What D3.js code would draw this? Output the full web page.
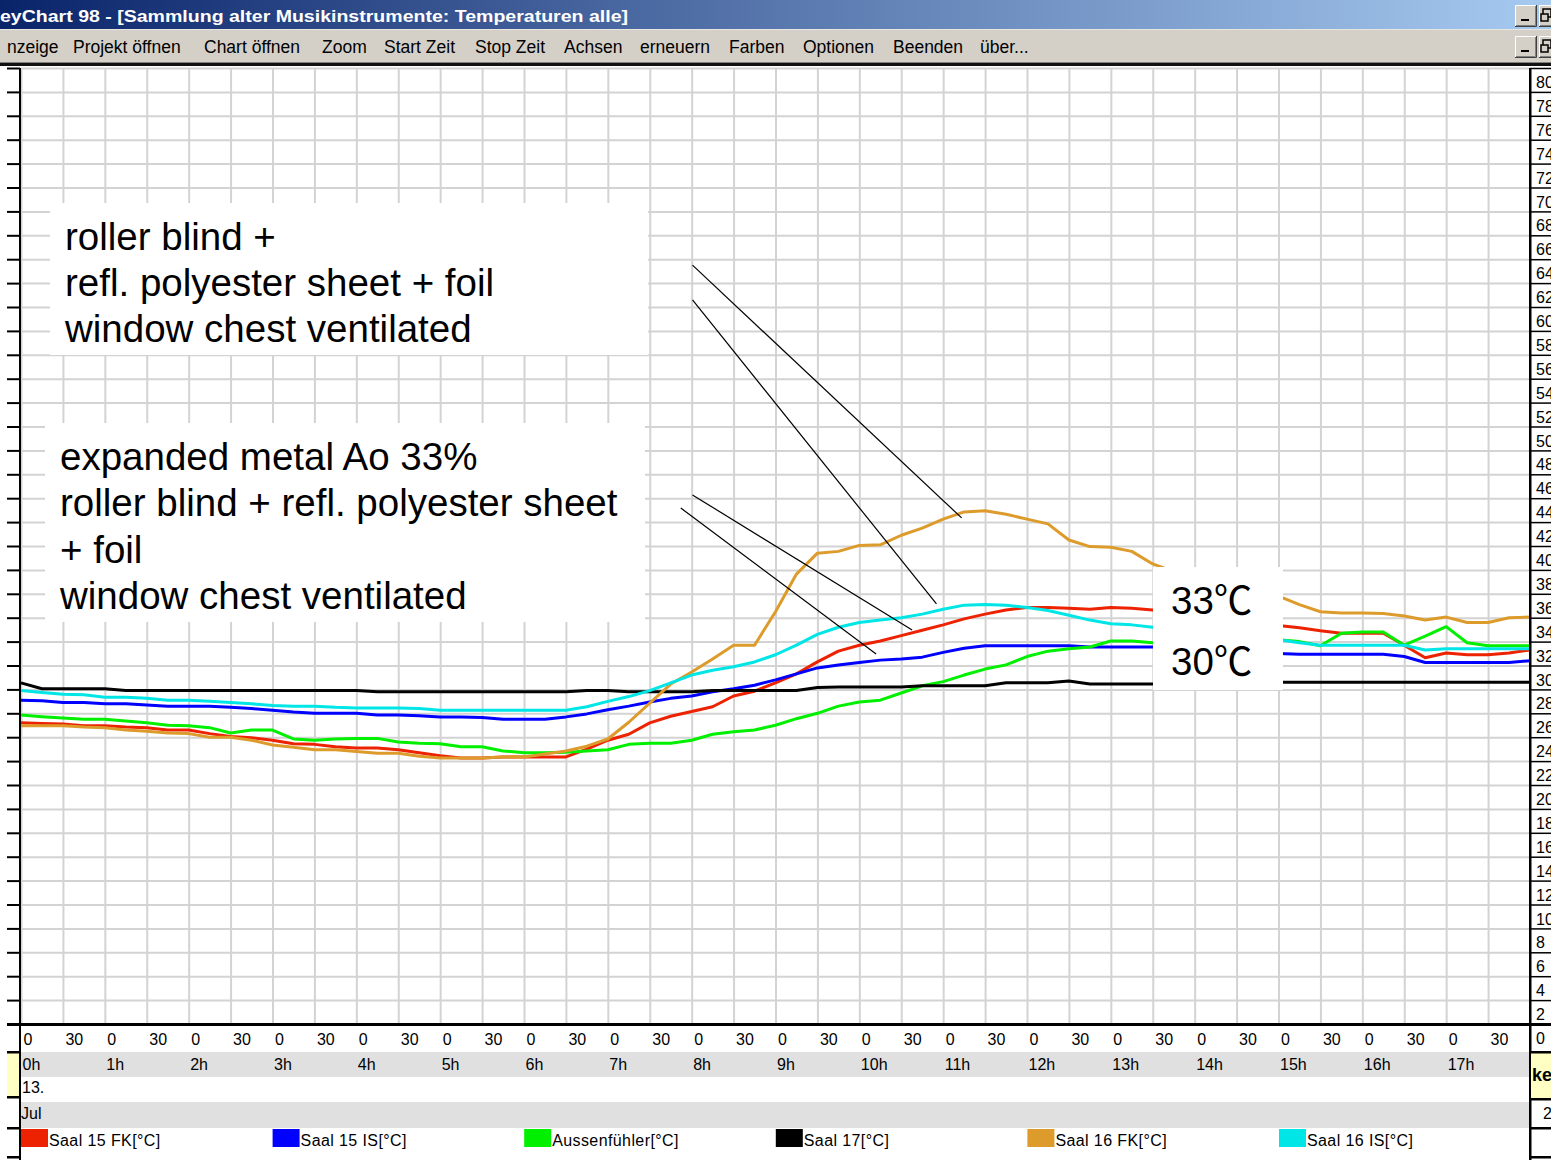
<!DOCTYPE html>
<html>
<head>
<meta charset="utf-8">
<script src="https://cdn.jsdelivr.net/npm/d3@7"></script>
<style>
  html, body { margin: 0; padding: 0; background: #fff; overflow: hidden; }
  svg { display: block; }
  text { font-family: "Liberation Sans", Arial, sans-serif; }
</style>
</head>
<body>
<svg id="chart" width="1551" height="1160"></svg>
<script>
// ---- data -------------------------------------------------------------
// Readings every 15 minutes from 0h to 18h (73 samples per sensor), in °C
const sampleHours = d3.range(0, 73).map(i => i / 4);

const saal15FK = [
  25.2, 25.15, 25.1, 24.95, 24.95, 24.85, 24.8, 24.6, 24.6, 24.3,
  24.05, 23.95, 23.75, 23.45, 23.4, 23.2, 23.1, 23.1, 22.95, 22.7,
  22.45, 22.25, 22.25, 22.35, 22.35, 22.35, 22.35, 23.0, 23.75, 24.25,
  25.2, 25.75, 26.15, 26.55, 27.45, 27.85, 28.55, 29.3, 30.3, 31.2,
  31.7, 32.05, 32.5, 32.95, 33.4, 33.9, 34.3, 34.65, 34.85, 34.85,
  34.8, 34.7, 34.85, 34.8, 34.65, 34.5, 34.3, 34.05, 33.8, 33.55,
  33.35, 33.15, 32.9, 32.7, 32.7, 32.7, 31.7, 30.65, 31.05, 30.9,
  30.9, 31.05, 31.3
];
const saal15IS = [
  27.1, 27.05, 26.9, 26.9, 26.8, 26.8, 26.7, 26.6, 26.6, 26.6,
  26.5, 26.4, 26.25, 26.1, 26.0, 26.0, 26.0, 25.85, 25.85, 25.8,
  25.7, 25.7, 25.65, 25.5, 25.5, 25.5, 25.7, 25.95, 26.3, 26.6,
  26.95, 27.25, 27.45, 27.8, 28.05, 28.35, 28.8, 29.3, 29.8, 30.05,
  30.25, 30.45, 30.55, 30.7, 31.1, 31.45, 31.65, 31.65, 31.65, 31.65,
  31.65, 31.55, 31.55, 31.55, 31.55, 31.45, 31.3, 31.2, 31.15, 31.05,
  31.0, 30.95, 30.95, 30.95, 30.95, 30.95, 30.75, 30.25, 30.25, 30.25,
  30.25, 30.25, 30.4
];
const aussenfuehler = [
  25.85, 25.72, 25.6, 25.5, 25.5, 25.35, 25.2, 25.0, 24.95, 24.8,
  24.35, 24.6, 24.6, 23.85, 23.75, 23.85, 23.9, 23.9, 23.6, 23.5,
  23.45, 23.2, 23.2, 22.85, 22.7, 22.7, 22.75, 22.85, 22.95, 23.4,
  23.5, 23.5, 23.75, 24.25, 24.45, 24.6, 25.0, 25.55, 26.0, 26.6,
  26.95, 27.1, 27.7, 28.3, 28.65, 29.2, 29.7, 30.05, 30.75, 31.2,
  31.4, 31.55, 32.05, 32.05, 31.9, 31.9, 31.95, 32.05, 32.15, 32.15,
  32.15, 32.0, 31.65, 32.7, 32.8, 32.8, 31.7, 32.45, 33.25, 31.9,
  31.65, 31.65, 31.65
];
const saal17 = [
  28.55, 28.05, 28.05, 28.05, 28.05, 27.9, 27.9, 27.9, 27.9, 27.9,
  27.9, 27.9, 27.9, 27.9, 27.9, 27.9, 27.9, 27.8, 27.8, 27.8,
  27.8, 27.8, 27.8, 27.8, 27.8, 27.8, 27.8, 27.9, 27.9, 27.8,
  27.8, 27.8, 27.8, 27.9, 27.9, 27.9, 27.9, 27.9, 28.15, 28.2,
  28.2, 28.2, 28.2, 28.3, 28.3, 28.3, 28.3, 28.55, 28.55, 28.55,
  28.7, 28.45, 28.45, 28.45, 28.45, 28.5, 28.5, 28.5, 28.5, 28.5,
  28.6, 28.6, 28.6, 28.6, 28.6, 28.6, 28.6, 28.6, 28.6, 28.6,
  28.6, 28.6, 28.6
];
const saal16FK = [
  24.95, 24.95, 24.95, 24.85, 24.8, 24.6, 24.5, 24.35, 24.3, 24.0,
  24.0, 23.75, 23.35, 23.15, 22.95, 22.95, 22.8, 22.65, 22.65, 22.4,
  22.25, 22.25, 22.25, 22.35, 22.35, 22.6, 22.85, 23.25, 23.85, 25.25,
  26.85, 28.45, 29.45, 30.55, 31.7, 31.7, 34.5, 37.65, 39.4, 39.55,
  40.05, 40.1, 40.9, 41.5, 42.25, 42.85, 42.95, 42.65, 42.25, 41.85,
  40.5, 39.95, 39.9, 39.55, 38.5, 37.85, 37.35, 36.9, 36.6, 36.25,
  35.8, 35.1, 34.5, 34.4, 34.4, 34.35, 34.15, 33.8, 34.05, 33.6,
  33.6, 34.0, 34.05
];
const saal16IS = [
  27.9, 27.74, 27.6, 27.55, 27.35, 27.35, 27.25, 27.1, 27.1, 27.0,
  26.9, 26.8, 26.65, 26.6, 26.6, 26.5, 26.45, 26.45, 26.45, 26.4,
  26.25, 26.25, 26.25, 26.25, 26.25, 26.25, 26.25, 26.55, 27.0, 27.4,
  27.9, 28.55, 29.2, 29.6, 29.9, 30.3, 30.9, 31.7, 32.6, 33.2,
  33.6, 33.8, 34.0, 34.3, 34.7, 35.05, 35.1, 35.05, 34.85, 34.6,
  34.2, 33.8, 33.5, 33.4, 33.2, 33.05, 32.85, 32.6, 32.4, 32.25,
  32.15, 31.9, 31.7, 31.7, 31.7, 31.7, 31.7, 31.3, 31.4, 31.4,
  31.4, 31.4, 31.4
];

const seriesNames  = ["Saal 15 FK[°C]", "Saal 15 IS[°C]", "Aussenfühler[°C]", "Saal 17[°C]", "Saal 16 FK[°C]", "Saal 16 IS[°C]"];
const seriesValues = [saal15FK, saal15IS, aussenfuehler, saal17, saal16FK, saal16IS];
const seriesColors = ["#ec2200", "#0000ff", "#00f000", "#000000", "#dd9b2b", "#00e6e6"];

const tempTicks = d3.range(0, 82, 2);                 // 0 … 80 °C
const halfHourTicks = d3.range(0, 36).map(i => i / 2); // 0h … 17h30
const hourTicks = d3.range(0, 18);
const dayLabel = "13.";
const monthLabel = "Jul";

const titleText = "eyChart 98 - [Sammlung alter Musikinstrumente: Temperaturen alle]";
const menuItems = ["nzeige", "Projekt öffnen", "Chart öffnen", "Zoom", "Start Zeit", "Stop Zeit",
                   "Achsen", "erneuern", "Farben", "Optionen", "Beenden", "über..."];

const noteUpper = ["roller blind +", "refl. polyester sheet + foil", "window chest ventilated"];
const noteLower = ["expanded metal Ao 33%", "roller blind + refl. polyester sheet", "+ foil", "window chest ventilated"];
const noteTemps = ["33", "30"];
// leader lines, [hour, °C] from the note to the curve
const leaders = [
  [[8.01, 63.5], [11.22, 42.35]],
  [[8.01, 60.6], [10.92, 35.15]],
  [[8.01, 44.27], [10.63, 32.97]],
  [[7.87, 43.18], [10.2, 30.96]]
];

// ---- layout -----------------------------------------------------------
const W = 1551, H = 1160;
const plot = { left: 21, right: 1530, top: 68, bottom: 1024 };
const menuX = [7, 73, 204, 322, 384, 475, 564, 640, 729, 803, 893, 980];
const svg = d3.select("#chart");

const x = d3.scaleLinear().domain([0, 18]).range([plot.left, plot.right]);
const y = d3.scaleLinear().domain([0, 80]).range([plot.bottom, plot.top]);

// ---- window frame: title bar and menu ----------------------------------
const defs = svg.append("defs");
const grad = defs.append("linearGradient").attr("id", "titleGrad")
  .attr("x1", 0).attr("x2", 1).attr("y1", 0).attr("y2", 0);
grad.append("stop").attr("offset", 0).attr("stop-color", "#0a246a");
grad.append("stop").attr("offset", 1).attr("stop-color", "#a6caf0");

svg.append("rect").attr("x", 0).attr("y", 0).attr("width", W).attr("height", 29).attr("fill", "url(#titleGrad)");
svg.append("text").attr("x", 0).attr("y", 22)
  .attr("fill", "#fff").attr("font-weight", "bold").attr("font-size", 17)
  .attr("font-family", "'DejaVu Sans', sans-serif")
  .attr("textLength", 628).attr("lengthAdjust", "spacingAndGlyphs")
  .text(titleText);

svg.append("rect").attr("x", 0).attr("y", 29).attr("width", W).attr("height", 34).attr("fill", "#d4d0c8");
svg.append("rect").attr("x", 0).attr("y", 29).attr("width", W).attr("height", 1).attr("fill", "#e8e6e0");

svg.append("g").selectAll("text").data(menuItems).join("text")
  .attr("x", (d, i) => menuX[i]).attr("y", 53)
  .attr("font-size", 17.5).attr("fill", "#000").text(d => d);

// small window buttons at the right edge
function winButton(bx, by, w, h, glyph) {
  const g = svg.append("g");
  g.append("rect").attr("x", bx).attr("y", by).attr("width", w).attr("height", h).attr("fill", "#d4d0c8");
  g.append("path").attr("d", `M${bx + 0.5},${by + h}V${by + 0.5}H${bx + w}`).attr("stroke", "#fff").attr("fill", "none");
  g.append("path").attr("d", `M${bx},${by + h - 0.5}H${bx + w - 0.5}V${by}`).attr("stroke", "#404040").attr("fill", "none");
  g.append("path").attr("d", `M${bx + 1},${by + h - 1.5}H${bx + w - 1.5}V${by + 1}`).attr("stroke", "#808080").attr("fill", "none");
  if (glyph === "min") {
    g.append("rect").attr("x", bx + 6).attr("y", by + h - 8).attr("width", 8).attr("height", 2).attr("fill", "#000");
  } else {
    g.append("rect").attr("x", bx + 4).attr("y", by + 4).attr("width", 8).attr("height", 8)
      .attr("fill", "none").attr("stroke", "#000").attr("stroke-width", 1.5);
    g.append("rect").attr("x", bx + 2).attr("y", by + 9).attr("width", 7).attr("height", 7)
      .attr("fill", "#d4d0c8").attr("stroke", "#000").attr("stroke-width", 1.5);
  }
}
winButton(1515, 5, 22, 22, "min");
winButton(1539, 5, 22, 22, "restore");
winButton(1515, 36, 22, 22, "min");
winButton(1539, 36, 22, 22, "restore");

svg.append("rect").attr("x", 0).attr("y", 62).attr("width", W).attr("height", 1).attr("fill", "#808080");
svg.append("rect").attr("x", 0).attr("y", 63).attr("width", W).attr("height", 3).attr("fill", "#111");

// ---- grid --------------------------------------------------------------
const grid = svg.append("g");
grid.append("g").attr("transform", `translate(0,${plot.bottom})`)
  .call(d3.axisBottom(x).tickValues(halfHourTicks).tickSize(-(plot.bottom - plot.top)).tickFormat(""))
  .call(g => g.select(".domain").remove())
  .call(g => g.selectAll("line").attr("stroke", "#d3d3d3").attr("stroke-width", 2));
grid.append("g").attr("transform", `translate(${plot.left},0)`)
  .call(d3.axisLeft(y).tickValues(tempTicks).tickSize(-(plot.right - plot.left)).tickFormat(""))
  .call(g => g.select(".domain").remove())
  .call(g => g.selectAll("line").attr("stroke", "#d3d3d3").attr("stroke-width", 2));

// ---- annotation boxes (white panels hide the grid) ---------------------
svg.append("rect").attr("x", 50).attr("y", 203).attr("width", 598).attr("height", 152).attr("fill", "#fff");
svg.append("rect").attr("x", 45).attr("y", 423).attr("width", 600).attr("height", 199).attr("fill", "#fff");

// ---- series ------------------------------------------------------------
const line = d3.line()
  .x((d, i) => x(sampleHours[i]))
  .y(d => y(d));

svg.append("g").selectAll("path")
  .data(seriesValues)
  .join("path")
  .attr("d", d => line(d))
  .attr("fill", "none")
  .attr("stroke", (d, i) => seriesColors[i])
  .attr("stroke-width", 3)
  .attr("stroke-linejoin", "round");

// box with the two temperature marks sits over the curves
svg.append("rect").attr("x", 1153).attr("y", 567).attr("width", 130).attr("height", 123).attr("fill", "#fff");

// ---- notes -------------------------------------------------------------
const noteFont = 38.5;
svg.append("g").selectAll("text").data(noteUpper).join("text")
  .attr("x", 65).attr("y", (d, i) => 250 + i * 46)
  .attr("font-size", noteFont).attr("fill", "#000").text(d => d);
svg.append("g").selectAll("text").data(noteLower).join("text")
  .attr("x", 60).attr("y", (d, i) => 470 + i * 46.3)
  .attr("font-size", noteFont).attr("fill", "#000").text(d => d);

const tempNote = svg.append("g").selectAll("text").data(noteTemps).join("text")
  .attr("x", 1171).attr("y", (d, i) => 614 + i * 61)
  .attr("font-size", noteFont).attr("fill", "#000");
tempNote.append("tspan").text(d => d);
tempNote.append("tspan").attr("font-family", "'Noto Sans CJK JP', sans-serif").text("℃");

svg.append("g").selectAll("line").data(leaders).join("line")
  .attr("x1", d => x(d[0][0])).attr("y1", d => y(d[0][1]))
  .attr("x2", d => x(d[1][0])).attr("y2", d => y(d[1][1]))
  .attr("stroke", "#000").attr("stroke-width", 1.2);

// ---- left edge: ticks and frame ---------------------------------------
svg.append("g").attr("transform", `translate(20,0)`)
  .call(d3.axisLeft(y).tickValues(tempTicks).tickSize(13).tickFormat(""))
  .call(g => g.select(".domain").remove())
  .call(g => g.selectAll("line").attr("stroke", "#000").attr("stroke-width", 2));

// ---- bottom rows: minutes, hours, day, month ----------------------------
svg.append("rect").attr("x", plot.left).attr("y", 1052).attr("width", plot.right - plot.left).attr("height", 25).attr("fill", "#e0e0e0");
svg.append("rect").attr("x", plot.left).attr("y", 1102).attr("width", plot.right - plot.left).attr("height", 26).attr("fill", "#e0e0e0");

svg.append("g").attr("transform", `translate(0,${plot.bottom})`)
  .call(d3.axisBottom(x).tickValues(halfHourTicks).tickSize(0).tickFormat(d => (d % 1 === 0 ? "0" : "30")))
  .call(g => g.select(".domain").remove())
  .call(g => g.selectAll("text").attr("text-anchor", "start").attr("x", 2).attr("y", 21).attr("dy", null)
    .attr("font-size", 16).attr("font-family", "'Liberation Sans', Arial, sans-serif").attr("fill", "#000"));

svg.append("g").attr("transform", `translate(0,${plot.bottom})`)
  .call(d3.axisBottom(x).tickValues(hourTicks).tickSize(0).tickFormat(d => d + "h"))
  .call(g => g.select(".domain").remove())
  .call(g => g.selectAll("text").attr("text-anchor", "start").attr("x", 1).attr("y", 46).attr("dy", null)
    .attr("font-size", 16).attr("font-family", "'Liberation Sans', Arial, sans-serif").attr("fill", "#000"));

svg.append("text").attr("x", 22).attr("y", 1093).attr("font-size", 16).text(dayLabel);
svg.append("text").attr("x", 21).attr("y", 1119).attr("font-size", 16).text(monthLabel);

// axis line along the bottom of the plot
svg.append("rect").attr("x", 7).attr("y", plot.bottom - 1).attr("width", W - 7).attr("height", 3).attr("fill", "#000");

// left column boxes
svg.append("rect").attr("x", 7).attr("y", 1052).attr("width", 13).attr("height", 45).attr("fill", "#ffffc4");
[1052, 1097, 1128, 1157].forEach(v => {
  svg.append("rect").attr("x", 7).attr("y", v - 1).attr("width", 13).attr("height", 2.5).attr("fill", "#000");
});
svg.append("rect").attr("x", 19).attr("y", plot.top).attr("width", 2).attr("height", H - plot.top).attr("fill", "#000");

// ---- right column: value labels in boxes ------------------------------
const right = svg.append("g").attr("transform", `translate(${plot.right},0)`);
right.call(d3.axisRight(y).tickValues(tempTicks).tickSize(W - plot.right).tickFormat(d => d))
  .call(g => g.select(".domain").remove())
  .call(g => g.selectAll("line").attr("stroke", "#000").attr("stroke-width", 1.5))
  .call(g => g.selectAll("text").attr("x", 6).attr("y", 19.5).attr("dy", null)
    .attr("font-size", 16).attr("font-family", "'Liberation Sans', Arial, sans-serif").attr("fill", "#000"));
svg.append("rect").attr("x", plot.right - 1).attr("y", plot.top).attr("width", 2.5).attr("height", H - plot.top).attr("fill", "#000");

svg.append("rect").attr("x", plot.right + 1).attr("y", 1053).attr("width", W - plot.right).attr("height", 46).attr("fill", "#ffffc4");
[1052, 1099, 1128, 1157].forEach(v => {
  svg.append("rect").attr("x", plot.right).attr("y", v - 1).attr("width", W - plot.right).attr("height", 2.5).attr("fill", "#000");
});
svg.append("text").attr("x", 1532).attr("y", 1081).attr("font-size", 18).attr("font-weight", "bold").text("ke");
svg.append("text").attr("x", 1543).attr("y", 1119).attr("font-size", 16).text("2");

// ---- legend -------------------------------------------------------------
const legend = svg.append("g").selectAll("g").data(seriesNames).join("g")
  .attr("transform", (d, i) => `translate(${21 + i * 251.6},1129)`);
legend.append("rect").attr("width", 27).attr("height", 18).attr("fill", (d, i) => seriesColors[i]);
legend.append("text").attr("x", 28).attr("y", 17).attr("font-size", 16).attr("letter-spacing", 0.4).text(d => d);
</script>
</body>
</html>
